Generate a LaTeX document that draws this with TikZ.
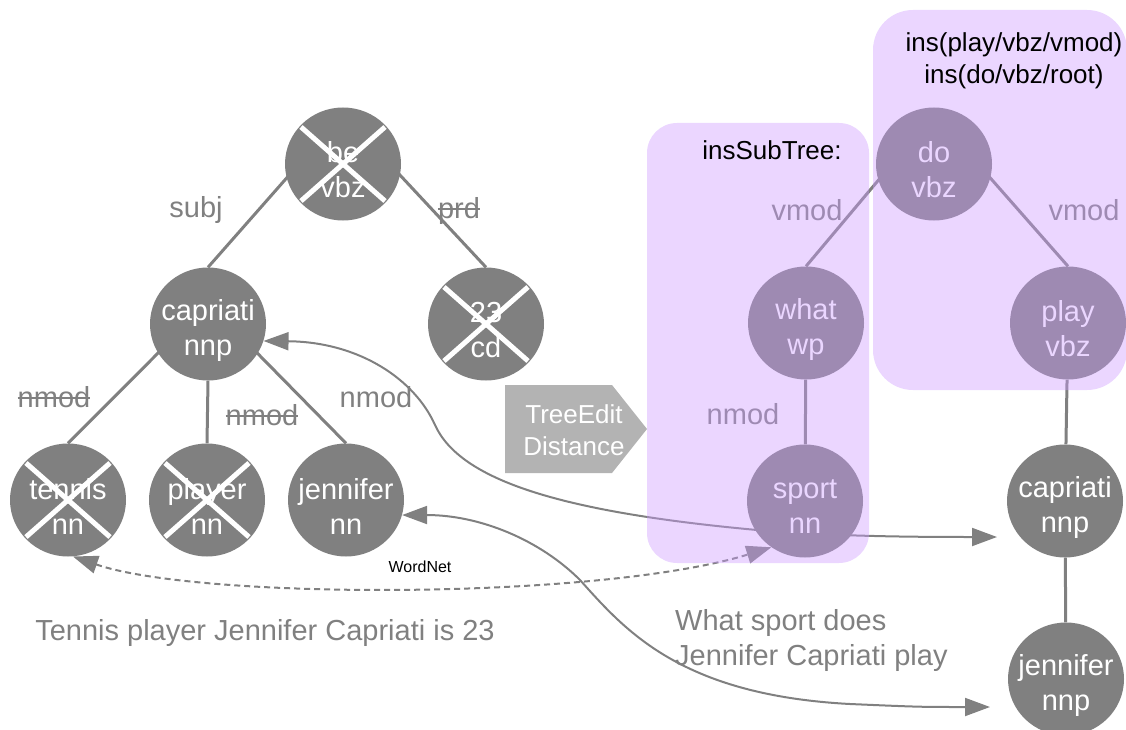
\documentclass[tikz,border=0pt]{standalone}
\usepackage{fontspec}
\setmainfont{Liberation Sans}
\usetikzlibrary{arrows.meta,shapes.geometric}
\pgfdeclarelayer{behind}
\pgfsetlayers{behind,main}
\definecolor{gry}{HTML}{808080}
\definecolor{ovl}{HTML}{CC99FF}
\definecolor{tedc}{HTML}{B3B3B3}
\begin{document}
\begin{tikzpicture}[x=1pt,y=-1pt,
  tn/.style={ellipse, fill=gry, minimum width=116pt, minimum height=113pt, inner sep=0pt},
  ntext/.style={text=white, align=center, font=\fontsize{29}{35}\selectfont, inner sep=0pt, yshift=-6pt},
  tedge/.style={draw=gry, line width=3pt},
  elab/.style={text=gry, font=\fontsize{29}{35}\selectfont, inner sep=0pt},
  blab/.style={text=black, font=\fontsize{26}{32}\selectfont, align=center, inner sep=0pt},
  xmark/.style={draw=white, line width=5pt},
  strike/.style={draw=gry, line width=2pt},
  link/.style={draw=gry, line width=2pt, {Triangle[length=25pt,width=18pt]}-{Triangle[length=25pt,width=18pt]}},
  ovbox/.style={fill=ovl, fill opacity=0.4, rounded corners=#1, inner sep=0pt},
]
\useasboundingbox (0,0) rectangle (1126,730);

% ---- nodes (left tree)
\node[tn] (be)  at (343,164) {};
\node[tn] (cap) at (208,324) {};
\node[tn] (c23) at (486,324) {};
\node[tn] (ten) at (68,500)  {};
\node[tn] (pla) at (207,500) {};
\node[tn] (jen) at (346,500) {};
% ---- nodes (right tree)
\node[tn] (do)  at (934,164) {};
\node[tn] (wha) at (806,323) {};
\node[tn] (ply) at (1068,323) {};
\node[tn] (spo) at (805,501) {};
\node[tn] (cr)  at (1065,501) {};
\node[tn] (jr)  at (1066,679) {};

% ---- node texts
\node[ntext] (bet)  at (be)  {be\\vbz};
\node[ntext] (capt) at (cap) {capriati\\nnp};
\node[ntext] (c23t) at (c23) {23\\cd};
\node[ntext] (tent) at (ten) {tennis\\nn};
\node[ntext] (plat) at (pla) {player\\nn};
\node[ntext] (jent) at (jen) {jennifer\\nn};
\node[ntext] (dot)  at (do)  {do\\vbz};
\node[ntext] (what) at (wha) {what\\wp};
\node[ntext] (plyt) at (ply) {play\\vbz};
\node[ntext] (spot) at (spo) {sport\\nn};
\node[ntext] (crt)  at (cr)  {capriati\\nnp};
\node[ntext] (jrt)  at (jr)  {jennifer\\nnp};

% ---- crosses
\foreach \n in {be,c23,ten,pla}{
  \draw[xmark] ([shift={(-42,-37)}]\n.center) -- ([shift={(42,37)}]\n.center);
  \draw[xmark] ([shift={(-42,37)}]\n.center) -- ([shift={(42,-37)}]\n.center);
}

\coordinate (capin) at (208,303);
\coordinate (bein) at (343,114);
\coordinate (doin) at (934,114);
\coordinate (capend) at (997,537);
\coordinate (jenend) at (990,707);

% ---- edges and links behind the nodes
\begin{pgfonlayer}{behind}
  \draw[tedge] (cap.north) -- (bein);
  \draw[tedge] (c23.north) -- (bein);
  \draw[tedge] (ten.north) -- (capin);
  \draw[tedge] (jen.north) -- (capin);
  \draw[tedge] (cap.south) -- (pla.north);
  \draw[tedge] (wha.north) -- (doin);
  \draw[tedge] (ply.north) -- (doin);
  \draw[tedge] (wha) -- (spo);
  \draw[tedge] (ply) -- (cr);
  \draw[tedge] (cr) -- (jr);
  \draw[link] (cap.-17) .. controls (360,342) and (415,380) .. (435,425)
     .. controls (460,480) and (560,512) .. (757,530)
     .. controls (830,536) and (900,537) .. (capend);
  \draw[link] (jen.-15) .. controls (480,515) and (540,540) .. (580,580)
     .. controls (625,630) and (680,695) .. (850,704)
     .. controls (920,707) .. (jenend);
  \draw[link, dash pattern=on 6pt off 4pt] (ten.-85) .. controls (200,600) and (600,600) .. (spo.-126);
\end{pgfonlayer}

% ---- edge labels
\node[elab] (lsubj) at (196,210) {subj};
\node[elab, anchor=base] (lprd) at (459,218) {prd};
\draw[strike] ([yshift=9pt]lprd.base west) -- ([yshift=9pt]lprd.base east);
\node[elab, anchor=base] (lnm1) at (54,407) {nmod};
\draw[strike] ([yshift=9pt]lnm1.base west) -- ([yshift=9pt]lnm1.base east);
\node[elab, anchor=base] (lnm2) at (262,425) {nmod};
\draw[strike] ([yshift=9pt]lnm2.base west) -- ([yshift=9pt]lnm2.base east);
\node[elab] (lnm3) at (376,397) {nmod};
\node[elab] (lvm1) at (807,210) {vmod};
\node[elab] (lvm2) at (1084,210) {vmod};
\node[elab] (lnm4) at (743,414) {nmod};

% ---- captions
\node[elab] (cap1) at (265,633) {Tennis player Jennifer Capriati is 23};
\node[elab, align=left, anchor=west] (cap2) at (675,640) {What sport does\\Jennifer Capriati play};
\node[text=black, font=\fontsize{16}{19}\selectfont, inner sep=0pt] (wn) at (420,567) {WordNet};

% ---- tree edit distance arrow
\fill[tedc] (505,385) -- (612,385) -- (647,429) -- (612,473) -- (505,473) -- cycle;
\node[text=white, font=\fontsize{26}{32}\selectfont, align=center, inner sep=0pt] (ted) at (574,430) {TreeEdit\\Distance};

% ---- translucent boxes
\node[ovbox=30pt, minimum width=222pt, minimum height=440pt] (box1) at (758,343) {};
\node[ovbox=40pt, minimum width=254pt, minimum height=380pt] (box2) at (1000,200) {};
\node[blab] (l_ins) at (772,150) {insSubTree:};
\node[blab] (l_ins2) at (1014,61) {ins(play/vbz/vmod)\\ins(do/vbz/root)};
\end{tikzpicture}
\end{document}
